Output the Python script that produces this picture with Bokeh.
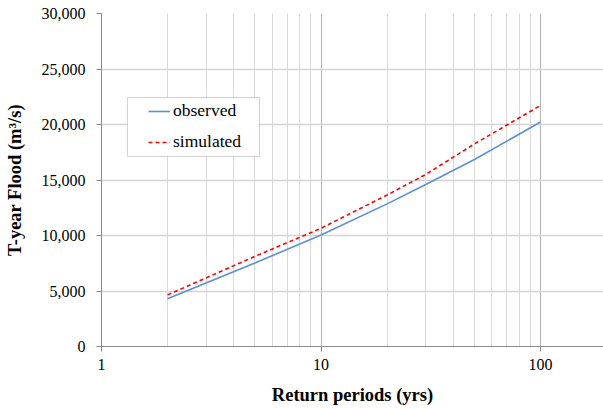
from bokeh.plotting import figure
from bokeh.models import (Range1d, FixedTicker, NumeralTickFormatter, PrintfTickFormatter,
                          Legend, LegendItem, BoxAnnotation, ColumnDataSource)
from bokeh.embed import file_html
from bokeh.resources import INLINE

# ---- data ----
return_periods = [2, 5, 10, 20, 30, 50, 100]
observed = [4300, 7520, 10050, 12850, 14600, 16850, 20220]
simulated = [4650, 8120, 10650, 13650, 15500, 18250, 21720]

x_major = [1, 10, 100]
x_minor = [2, 3, 4, 5, 6, 7, 8, 9, 20, 30, 40, 50, 60, 70, 80, 90]
y_ticks = [0, 5000, 10000, 15000, 20000, 25000, 30000]

FONT = "Liberation Serif"

p = figure(width=603, height=409, x_axis_type="log",
           x_range=Range1d(1, 193.6), y_range=Range1d(0, 30000),
           output_backend="svg", toolbar_location=None,
           min_border_left=101, min_border_top=13, min_border_bottom=63,
           min_border_right=0)
p.outline_line_color = None
p.background_fill_color = "white"

src = ColumnDataSource(dict(T=return_periods, obs=observed, sim=simulated))
r_obs = p.line("T", "obs", source=src, line_color="#5b8fd9", line_width=1.6)
r_sim = p.line("T", "sim", source=src, line_color="#ff0000", line_width=1.6,
               line_dash="4 3")

# axes
xa = p.xaxis[0]
xa.ticker = FixedTicker(ticks=x_major, minor_ticks=x_minor)
xa.formatter = PrintfTickFormatter(format="%d")
ya = p.yaxis[0]
ya.ticker = FixedTicker(ticks=y_ticks)
ya.formatter = NumeralTickFormatter(format="0,0")

for ax in (xa, ya):
    ax.axis_line_color = "#8c8c8c"
    ax.major_tick_line_color = "#8c8c8c"
    ax.major_tick_in = 0
    ax.major_tick_out = 5
    ax.minor_tick_line_color = None
    ax.major_label_text_font = FONT
    ax.major_label_text_font_size = "16px"
    ax.major_label_text_color = "black"
    ax.axis_label_text_font = FONT
    ax.axis_label_text_font_size = "18.5px"
    ax.axis_label_text_font_style = "bold"
    ax.axis_label_text_color = "black"

xa.axis_label = "Return periods (yrs)"
xa.major_label_standoff = 7
xa.axis_label_standoff = 12
ya.axis_label = "T-year Flood (m³/s)"
ya.major_label_standoff = 11
ya.axis_label_standoff = 14

# grids
p.xgrid.grid_line_color = "#b3b3b3"
p.xgrid.grid_line_width = 1
p.xgrid.minor_grid_line_color = "#d9d9d9"
p.xgrid.minor_grid_line_width = 1
p.ygrid.grid_line_color = "#d4d4d4"
p.ygrid.grid_line_width = 1.6

# legend box
box = BoxAnnotation(left=26, right=158, top=249, bottom=190,
                    left_units="screen", right_units="screen",
                    top_units="screen", bottom_units="screen",
                    fill_color="white", fill_alpha=1.0,
                    line_color="#6e6e6e", line_width=1)
p.add_layout(box)

legend = Legend(items=[LegendItem(label="observed", renderers=[r_obs]),
                       LegendItem(label="simulated", renderers=[r_sim])],
                location=(47, 194), padding=0, margin=0, spacing=10,
                glyph_width=22, glyph_height=20, label_height=20,
                label_standoff=3, border_line_color=None,
                background_fill_alpha=0,
                label_text_font=FONT, label_text_font_size="17.5px",
                label_text_color="black")
p.add_layout(legend)

open("out.html", "w").write(file_html(p, INLINE))
